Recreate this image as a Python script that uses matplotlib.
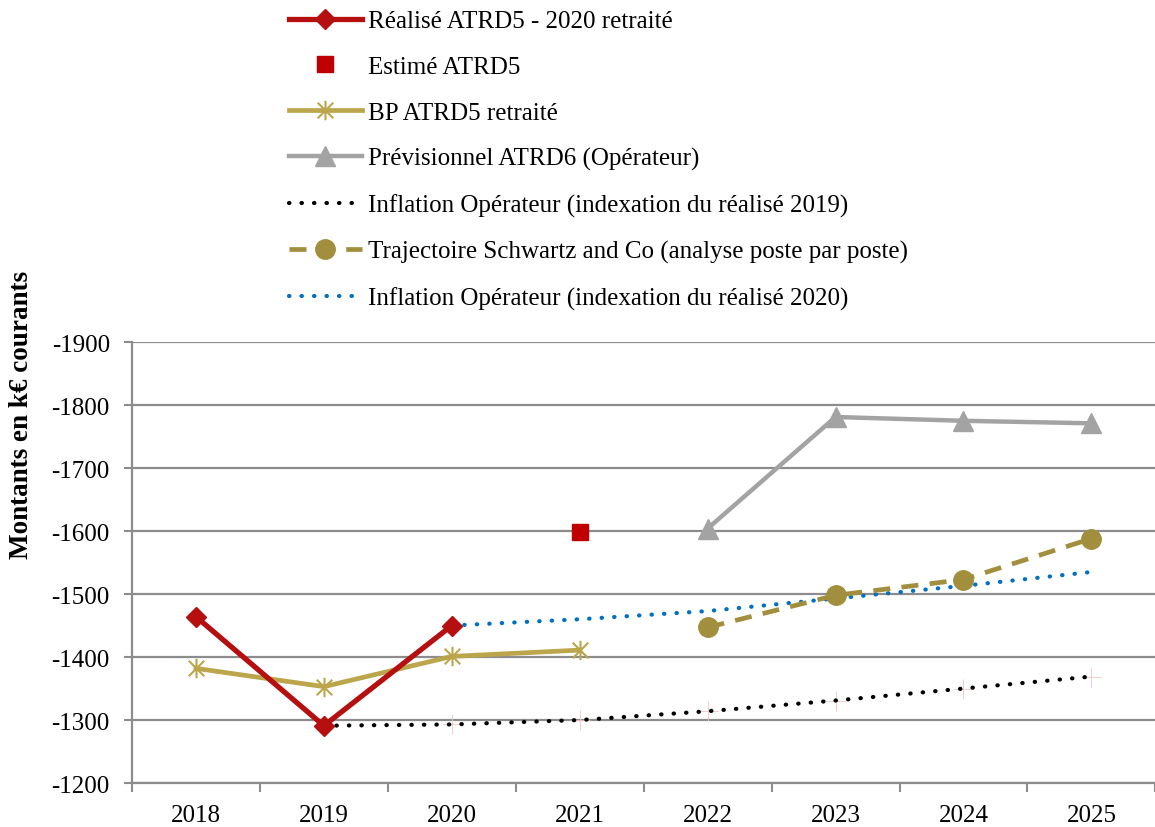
import matplotlib
matplotlib.use("Agg")
import matplotlib.pyplot as plt
from matplotlib.path import Path

plt.rcParams['font.family'] = ['Liberation Serif', 'DejaVu Serif']
plt.rcParams['axes.unicode_minus'] = False

# Data (k€ courants)
years = ["2018", "2019", "2020", "2021", "2022", "2023", "2024", "2025"]
realise = [-1464, -1291, -1450]                   # 2018-2020
estime = [-1598]                                  # 2021
bp = [-1382, -1353, -1401, -1411]                 # 2018-2021
previsionnel = [-1604, -1781, -1775, -1771]       # 2022-2025
inflation_2019 = [-1291, -1293, -1300, -1314, -1331, -1350, -1369]  # 2019-2025
schwartz = [-1447, -1498, -1523, -1588]           # 2022-2025
inflation_2020 = [-1450, -1460, -1473, -1493, -1513, -1535]         # 2020-2025

labels = [
    "Réalisé ATRD5 - 2020 retraité",
    "Estimé ATRD5",
    "BP ATRD5 retraité",
    "Prévisionnel ATRD6 (Opérateur)",
    "Inflation Opérateur (indexation du réalisé 2019)",
    "Trajectoire Schwartz and Co (analyse poste par poste)",
    "Inflation Opérateur (indexation du réalisé 2020)",
]

red = "#B50F0F"
gold = "#BBA64C"
grey = "#A3A3A3"
olive = "#A28F3E"
blue = "#0070C0"
axis_grey = "#8C8C8C"

# Excel-like star marker: vertical bar + X
star = Path([(0, -1), (0, 1), (-0.8, -0.8), (0.8, 0.8), (-0.8, 0.8), (0.8, -0.8)],
            [Path.MOVETO, Path.LINETO, Path.MOVETO, Path.LINETO, Path.MOVETO, Path.LINETO])

x = list(range(len(years)))

fig = plt.figure(figsize=(11.55, 8.28), dpi=100)
ax = fig.add_axes([0.1143, 0.0531, 0.886, 0.5326])

h1, = ax.plot(x[0:3], realise, color=red, lw=3.8, marker="D", ms=10, zorder=5)
h2, = ax.plot(x[3:4], estime, color="#C00000", lw=0, marker="s", ms=11, zorder=5)
h3, = ax.plot(x[0:4], bp, color=gold, lw=3.4, marker=star, ms=14, mew=1.5, zorder=4)
h4, = ax.plot(x[4:8], previsionnel, color=grey, lw=3.2, marker="^", ms=14, zorder=4)
h5, = ax.plot(x[1:8], inflation_2019, color="black", lw=3.0, ls=(0, (0.1, 2.9)),
              dash_capstyle="round", zorder=3)
ax.plot(x[1:8], inflation_2019, lw=0, marker="+", ms=14, mew=0.6, color="#F2C4C4", zorder=2)
h6, = ax.plot(x[4:8], schwartz, color=olive, lw=3.4, ls=(0, (3.6, 2.4)),
              marker="o", ms=14, zorder=4)
h7, = ax.plot(x[2:8], inflation_2020, color=blue, lw=3.0, ls=(0, (0.1, 2.9)),
              dash_capstyle="round", zorder=3)

ax.set_ylim(-1200, -1900)
ax.set_yticks(range(-1900, -1199, 100))
ax.set_xlim(-0.5, 7.5)
ax.set_xticks([i - 0.5 for i in range(len(years) + 1)])
ax.set_xticklabels([])
ax.set_xticks(x, minor=True)
ax.set_xticklabels(years, minor=True)
ax.tick_params(axis="x", which="minor", length=0, pad=15, labelsize=18)
ax.tick_params(axis="x", which="major", length=6.5, width=1.5, color=axis_grey)
ax.tick_params(axis="y", length=6, width=1.5, color=axis_grey, pad=10, labelsize=18)

ax.grid(axis="y", color=axis_grey, lw=1.6)
ax.set_axisbelow(True)
for side in ["top", "right"]:
    ax.spines[side].set_visible(False)
for side in ["left", "bottom"]:
    ax.spines[side].set_color(axis_grey)
    ax.spines[side].set_linewidth(1.6)

fig.text(0.019, 0.499, "Montants en k€ courants", rotation=90, ha="center", va="center",
         fontsize=19.5, fontweight="bold")

fig.legend([h1, h2, h3, h4, h5, h6, h7], labels, loc="upper left",
           bbox_to_anchor=(0.2416, 0.999), frameon=False, fontsize=18,
           handlelength=2.9, handletextpad=0.24, labelspacing=0.93, borderaxespad=0)

fig.savefig("out.png", dpi=100)
